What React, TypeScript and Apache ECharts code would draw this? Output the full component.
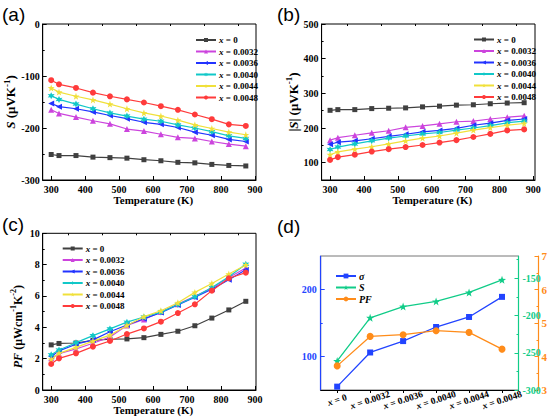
import React, { useEffect, useRef } from "react";
import * as echarts from "echarts";

const temperatures = [300, 323, 373, 423, 473, 523, 573, 623, 673, 723, 773, 823, 873];
const seriesNames = ["x = 0", "x = 0.0032", "x = 0.0036", "x = 0.0040", "x = 0.0044", "x = 0.0048"];

const seebeckX0 = [-251, -253, -253, -256, -257, -258, -261, -263, -266, -267, -270, -272, -273];
const seebeckX0032 = [-165, -172, -179, -186, -192, -202, -206, -212, -218, -220, -226, -231, -235];
const seebeckX0036 = [-153, -159, -163, -169, -176, -182, -189, -193, -199, -208, -214, -222, -226];
const seebeckX0040 = [-138, -145, -154, -163, -171, -177, -183, -187, -194, -200, -207, -215, -220];
const seebeckX0044 = [-123, -131, -139, -146, -154, -163, -171, -177, -185, -194, -201, -208, -213];
const seebeckX0048 = [-108, -116, -123, -132, -139, -145, -151, -158, -165, -174, -183, -193, -196];

const pfX0 = [2.88, 2.97, 3.0, 3.17, 3.24, 3.26, 3.34, 3.55, 3.75, 4.1, 4.59, 5.11, 5.66];
const pfX0032 = [2.02, 2.32, 2.62, 2.98, 3.38, 4.12, 4.5, 4.98, 5.48, 5.98, 6.5, 7.18, 7.78];
const pfX0036 = [2.13, 2.5, 2.92, 3.2, 3.72, 4.15, 4.55, 4.94, 5.43, 5.92, 6.43, 7.04, 7.68];
const pfX0040 = [2.25, 2.55, 3.02, 3.47, 3.9, 4.33, 4.66, 4.97, 5.46, 5.95, 6.54, 7.23, 8.02];
const pfX0044 = [1.95, 2.34, 2.72, 3.12, 3.5, 4.12, 4.68, 5.06, 5.57, 6.23, 6.8, 7.4, 7.98];
const pfX0048 = [1.66, 2.02, 2.34, 2.77, 3.13, 3.57, 3.93, 4.36, 4.91, 5.47, 6.34, 7.13, 7.49];

const dopingCategories = ["x = 0", "x = 0.0032", "x = 0.0036", "x = 0.0040", "x = 0.0044", "x = 0.0048"];
const sigmaValues = [55, 106, 123, 144, 159, 189];
const sValues = [-261, -203, -188, -181, -169, -152];
const pfValues = [3.72, 4.6, 4.65, 4.77, 4.72, 4.22];

const tempTicks = [300, 400, 500, 600, 700, 800, 900];
const tempMinorTicks = [350, 450, 550, 650, 750, 850];
const sTicksA = [-300, -200, -100, 0];
const sMinorA = [-250, -150, -50];
const sTicksB = [100, 200, 300, 400, 500];
const sMinorB = [150, 250, 350, 450];
const pfTicksC = [0, 2, 4, 6, 8, 10];
const pfMinorC = [1, 3, 5, 7, 9];
const sigmaTicks = [100, 200];
const sigmaMinor = [150];
const sTicksD = [-300, -250, -200, -150];
const sMinorD = [-275, -225, -175, -125];
const pfTicksD = [3, 4, 5, 6, 7];
const pfMinorD = [3.5, 4.5, 5.5, 6.5];

const FONT = "'Liberation Serif', 'Times New Roman', serif";
const SANS = "'Liberation Sans', Arial, sans-serif";

const colors = ["#404040", "#cc44dd", "#2233ff", "#11c8c8", "#f0e03a", "#ff3b3b"];
const BLUE = "#2244ff";
const GREEN = "#11cc88";
const ORANGE = "#ff8c1a";
const STAR5 =
  "path://M0,-10 L2.35,-3.24 L9.51,-3.09 L3.8,1.24 L5.88,8.09 L0,4 L-5.88,8.09 L-3.8,1.24 L-9.51,-3.09 L-2.35,-3.24 Z";
const STAR6 =
  "path://M0,-10 L2.5,-4.33 L8.66,-5 L5,0 L8.66,5 L2.5,4.33 L0,10 L-2.5,4.33 L-8.66,5 L-5,0 L-8.66,-5 L-2.5,-4.33 Z";
const symbols = ["rect", "triangle", "triangle", STAR6, STAR5, "circle"];
const symbolRotates = [0, 0, 90, 0, 0, 0];
const symbolSizes = [5, 6, 6, 7, 7, 6];

const seebeckSets = [seebeckX0, seebeckX0032, seebeckX0036, seebeckX0040, seebeckX0044, seebeckX0048];
const pfSets = [pfX0, pfX0032, pfX0036, pfX0040, pfX0044, pfX0048];

const labelStyle = { fontFamily: FONT, fontWeight: "bold", fontSize: 10, color: "#000" };

function tempAxis(gridIndex: number, max: number) {
  return {
    type: "value",
    gridIndex,
    min: 275,
    max,
    axisLine: { show: true, onZero: false, lineStyle: { color: "#000", width: 1 } },
    axisTick: { show: true, inside: true, length: 4, customValues: tempTicks, lineStyle: { color: "#000" } },
    axisLabel: { ...labelStyle, customValues: tempTicks, margin: 4 },
    splitLine: { show: false },
    name: "Temperature (K)",
    nameLocation: "middle",
    nameGap: 14,
    nameTextStyle: { fontFamily: FONT, fontWeight: "bold", fontSize: 11, color: "#000", padding: [0, 0, 0, 8] },
  };
}

function minorX(gridIndex: number, max: number) {
  return {
    type: "value",
    gridIndex,
    min: 275,
    max,
    axisLine: { show: false, onZero: false },
    axisTick: { show: true, inside: true, length: 2, customValues: tempMinorTicks, lineStyle: { color: "#000" } },
    axisLabel: { show: false },
    splitLine: { show: false },
  };
}

function valueY(gridIndex: number, min: number, max: number, ticks: number[], name: string, rich: any, pad: number[]) {
  return {
    type: "value",
    gridIndex,
    min,
    max,
    axisLine: { show: true, onZero: false, lineStyle: { color: "#000", width: 1 } },
    axisTick: { show: true, inside: true, length: 4, customValues: ticks, lineStyle: { color: "#000" } },
    axisLabel: { ...labelStyle, customValues: ticks, margin: 3 },
    splitLine: { show: false },
    name,
    nameLocation: "middle",
    nameGap: 17,
    nameTextStyle: { fontFamily: FONT, fontWeight: "bold", fontSize: 13, color: "#000", rich, padding: pad },
  };
}

function minorY(gridIndex: number, min: number, max: number, ticks: number[], color = "#000", position = "left", offset = 0) {
  return {
    type: "value",
    gridIndex,
    min,
    max,
    position,
    offset,
    axisLine: { show: false, onZero: false },
    axisTick: { show: true, inside: true, length: 2, customValues: ticks, lineStyle: { color } },
    axisLabel: { show: false },
    splitLine: { show: false },
  };
}

function richName(size: number, sup: number) {
  const base = { fontFamily: FONT, fontWeight: "bold", fontSize: size, color: "#000", lineHeight: size + 4 };
  return {
    i: { ...base, fontStyle: "italic" },
    n: { ...base },
    s: { fontFamily: FONT, fontWeight: "bold", fontSize: sup, color: "#000", verticalAlign: "top" },
  };
}

function legendFor(left: number, top: number, data: string[], fmt: (n: string) => string, size: number, gap: number, iconH: number) {
  return {
    orient: "vertical",
    left,
    top,
    data,
    itemWidth: 20,
    itemHeight: iconH,
    itemGap: gap,
    selectedMode: false,
    formatter: fmt,
    textStyle: {
      fontFamily: FONT,
      fontWeight: "bold",
      fontSize: size,
      color: "#000",
      lineHeight: size,
      padding: [0, 0, 0, -2],
      rich: { i: { fontFamily: FONT, fontWeight: "bold", fontStyle: "italic", fontSize: size, color: "#000" } },
    },
  };
}

const xFmt = (n: string) => "{i|x}" + n.slice(1);

export default function App() {
  const ref = useRef<HTMLDivElement>(null);
  useEffect(() => {
    document.body.style.margin = "0";
    if (!ref.current) return;
    const chart = echarts.init(ref.current, null, { renderer: "svg" });

    const series: any[] = [];
    seriesNames.forEach((name, k) => {
      const common = {
        name,
        type: "line",
        symbol: symbols[k],
        symbolSize: symbolSizes[k],
        symbolRotate: symbolRotates[k],
        lineStyle: { color: colors[k], width: 1.2 },
        itemStyle: { color: colors[k] },
        z: 3 + k,
      };
      series.push({ ...common, xAxisIndex: 0, yAxisIndex: 0, data: temperatures.map((t, i) => [t, seebeckSets[k][i]]) });
      series.push({
        ...common,
        xAxisIndex: 1,
        yAxisIndex: 1,
        data: temperatures.map((t, i) => [t, Math.abs(seebeckSets[k][i])]),
      });
      series.push({ ...common, xAxisIndex: 2, yAxisIndex: 2, data: temperatures.map((t, i) => [t, pfSets[k][i]]) });
    });
    series.push({
      name: "σ",
      type: "line",
      xAxisIndex: 3,
      yAxisIndex: 3,
      symbol: "rect",
      symbolSize: 6,
      lineStyle: { color: BLUE, width: 1.3 },
      itemStyle: { color: BLUE },
      data: sigmaValues,
    });
    series.push({
      name: "S",
      type: "line",
      xAxisIndex: 3,
      yAxisIndex: 4,
      symbol: STAR5,
      symbolSize: 8,
      lineStyle: { color: GREEN, width: 1.3 },
      itemStyle: { color: GREEN },
      data: sValues,
    });
    series.push({
      name: "PF",
      type: "line",
      xAxisIndex: 3,
      yAxisIndex: 5,
      symbol: "circle",
      symbolSize: 7,
      lineStyle: { color: ORANGE, width: 1.3 },
      itemStyle: { color: ORANGE },
      data: pfValues,
    });

    const gridBase = { show: true, borderColor: "#000", borderWidth: 1, backgroundColor: "transparent" };

    const option: any = {
      animation: false,
      backgroundColor: "#fff",
      grid: [
        { ...gridBase, left: 42.7, top: 24, width: 213.3, height: 156 },
        { ...gridBase, left: 321.6, top: 24, width: 213.4, height: 156 },
        { ...gridBase, left: 42.7, top: 233.3, width: 213.3, height: 156.7 },
        { ...gridBase, borderColor: "#777", left: 320.7, top: 256, width: 199.3, height: 134 },
      ],
      xAxis: [
        tempAxis(0, 903),
        tempAxis(1, 905),
        tempAxis(2, 903),
        {
          type: "category",
          gridIndex: 3,
          data: dopingCategories,
          axisLine: { show: true, lineStyle: { color: "#000", width: 1 } },
          axisTick: { show: true, alignWithLabel: true, length: 3, lineStyle: { color: "#000" } },
          axisLabel: {
            ...labelStyle,
            fontSize: 9.5,
            interval: 0,
            rotate: 18,
            align: "center",
            verticalAlign: "middle",
            margin: 10,
            formatter: xFmt,
            rich: { i: { fontFamily: FONT, fontWeight: "bold", fontStyle: "italic", fontSize: 9.5, color: "#000" } },
          },
          splitLine: { show: false },
        },
        minorX(0, 903),
        minorX(1, 905),
        minorX(2, 903),
      ],
      yAxis: [
        valueY(0, -300, 0, sTicksA, "{i|S} {n|(μVK}{s|-1}{n|)}", richName(13, 9), [0, 0, 0, 0]),
        valueY(1, 50, 500, sTicksB, "{n||}{i|S}{n||} {n|(μVK}{s|-1}{n|)}", richName(13, 9), [0, 0, 0, 0]),
        valueY(2, 0, 10, pfTicksC, "{i|PF} {n|(μWcm}{s|-1}{n|K}{s|-2}{n|)}", richName(12, 8), [0, 30, 0, 0]),
        {
          type: "value",
          gridIndex: 3,
          min: 50,
          max: 250,
          position: "left",
          axisLine: { show: true, onZero: false, lineStyle: { color: BLUE, width: 1.2 } },
          axisTick: { show: true, inside: true, length: 4, customValues: sigmaTicks, lineStyle: { color: BLUE } },
          axisLabel: { ...labelStyle, color: BLUE, customValues: sigmaTicks, margin: 4 },
          splitLine: { show: false },
        },
        {
          type: "value",
          gridIndex: 3,
          min: -300,
          max: -120,
          position: "right",
          axisLine: { show: true, onZero: false, lineStyle: { color: GREEN, width: 1.2 } },
          axisTick: { show: true, inside: true, length: 4, customValues: sTicksD, lineStyle: { color: GREEN } },
          axisLabel: { ...labelStyle, color: GREEN, customValues: sTicksD, margin: 4 },
          splitLine: { show: false },
        },
        {
          type: "value",
          gridIndex: 3,
          min: 3,
          max: 7,
          interval: 1,
          position: "right",
          offset: 20,
          axisLine: { show: true, onZero: false, lineStyle: { color: ORANGE, width: 1.2 } },
          axisTick: { show: true, inside: true, length: 4, customValues: pfTicksD, lineStyle: { color: ORANGE } },
          axisLabel: { ...labelStyle, fontSize: 11, color: ORANGE, customValues: pfTicksD, margin: 3 },
          splitLine: { show: false },
        },
        minorY(0, -300, 0, sMinorA),
        minorY(1, 50, 500, sMinorB),
        minorY(2, 0, 10, pfMinorC),
        minorY(3, 50, 250, sigmaMinor, BLUE, "left", 0),
        minorY(3, -300, -120, sMinorD, GREEN, "right", 0),
        minorY(3, 3, 7, pfMinorD, ORANGE, "right", 20),
      ],
      legend: [
        legendFor(190, 30.5, seriesNames, xFmt, 9, 2.5, 5),
        legendFor(468, 30, seriesNames, xFmt, 9, 2.5, 5),
        legendFor(56.7, 239, seriesNames, xFmt, 9, 2.5, 5),
        legendFor(330, 266, ["σ", "S", "PF"], (n: string) => "{i|" + n + "}", 10, 1.5, 6),
      ],
      graphic: [
        { type: "text", left: 2, top: 5, style: { text: "(a)", fontFamily: SANS, fontSize: 19, fill: "#000" } },
        { type: "text", left: 277, top: 5, style: { text: "(b)", fontFamily: SANS, fontSize: 19, fill: "#000" } },
        { type: "text", left: 2, top: 215, style: { text: "(c)", fontFamily: SANS, fontSize: 19, fill: "#000" } },
        { type: "text", left: 277, top: 217, style: { text: "(d)", fontFamily: SANS, fontSize: 19, fill: "#000" } },
      ],
      series,
    };
    chart.setOption(option);
    return () => chart.dispose();
  }, []);
  return <div ref={ref} style={{ position: "absolute", left: 0, top: 0, width: 550, height: 420 }} />;
}
